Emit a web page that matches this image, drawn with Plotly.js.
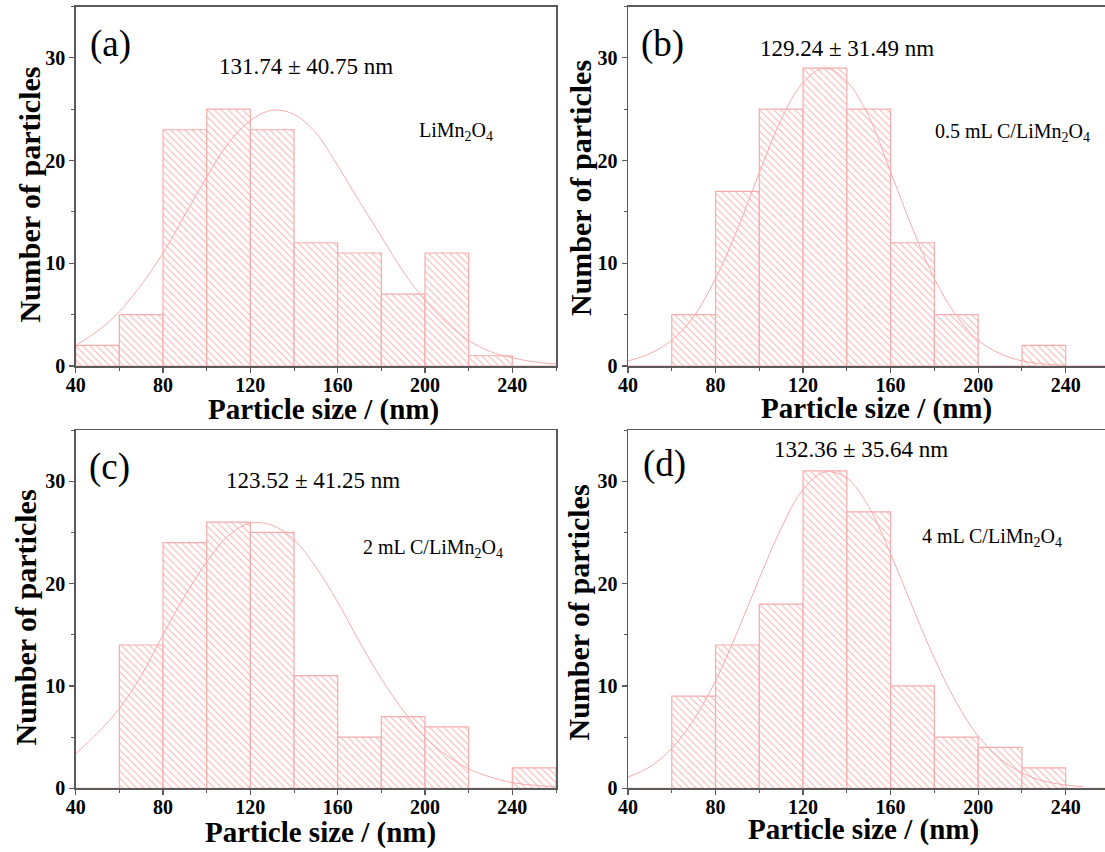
<!DOCTYPE html>
<html>
<head>
<meta charset="utf-8">
<script src="https://cdn.plot.ly/plotly-3.0.1.min.js"></script>
<style>html,body{margin:0;padding:0;background:#fff;}#chart{width:1105px;height:852px;}</style>
</head>
<body>
<div id="chart"></div>
<script>
// ---------- data ----------
const binCenters = [50, 70, 90, 110, 130, 150, 170, 190, 210, 230, 250];
const countsA = [2, 5, 23, 25, 23, 12, 11, 7, 11, 1, 0];
const countsB = [0, 5, 17, 25, 29, 25, 12, 5, 0, 2, 0];
const countsC = [0, 14, 24, 26, 25, 11, 5, 7, 6, 0, 2];
const countsD = [0, 9, 14, 18, 31, 27, 10, 5, 4, 2, 0];

const fitXA = [40,50,60,70,80,90,100,110,120,130,140,150,160,170,180,190,200,210,220,230,240,250,260];
const fitYA = [2.0,3.4,5.3,7.9,11.0,14.7,18.4,21.7,23.9,24.9,24.5,22.7,19.5,16.0,12.6,9.2,6.4,4.2,2.5,1.4,0.8,0.4,0.2];
const fitXB = [40,50,60,70,80,90,100,110,120,130,140,150,160,170,180,190,200,210,220,230,240];
const fitYB = [0.5,1.2,2.5,4.8,8.5,13.3,18.8,24.0,27.6,29.0,27.7,24.3,18.9,13.4,8.5,4.9,2.5,1.2,0.5,0.2,0.07];
const fitXC = [40,50,60,70,80,90,100,110,120,130,140,150,160,170,180,190,200,210,220,230,240,250,260];
const fitYC = [3.4,5.4,7.8,11.0,15.0,18.8,22.1,24.7,25.9,25.7,24.3,21.6,18.2,14.3,10.7,7.6,5.0,3.2,1.9,1.1,0.55,0.3,0.15];
const fitXD = [40,50,60,70,80,90,100,110,120,130,140,150,160,170,180,190,200,210,220,230,240,248];
const fitYD = [1.1,2.1,3.9,6.7,10.5,15.3,20.5,25.4,29.2,30.9,30.3,27.5,22.9,17.7,12.7,8.4,5.1,2.9,1.5,0.7,0.33,0.15];

const panelLetters = ['(a)', '(b)', '(c)', '(d)'];
const statLabels = ['131.74 \u00b1 40.75 nm', '129.24 \u00b1 31.49 nm', '123.52 \u00b1 41.25 nm', '132.36 \u00b1 35.64 nm'];
const sampleLabels = ['LiMn<sub>2</sub>O<sub>4</sub>', '0.5 mL C/LiMn<sub>2</sub>O<sub>4</sub>', '2 mL C/LiMn<sub>2</sub>O<sub>4</sub>', '4 mL C/LiMn<sub>2</sub>O<sub>4</sub>'];
const xTitle = 'Particle size / (nm)';
const yTitle = 'Number of particles';

// ---------- style ----------
const W = 1105, H = 852;
const pink = 'rgb(246,172,172)';
const FONT = 'Liberation Serif';
const px = v => v / W;
const py = v => 1 - v / H;

const counts = [countsA, countsB, countsC, countsD];
const fitsX = [fitXA, fitXB, fitXC, fitXD];
const fitsY = [fitYA, fitYB, fitYC, fitYD];

const traces = [];
for (let i = 0; i < 4; i++) {
  const sfx = i === 0 ? '' : String(i + 1);
  traces.push({
    type: 'bar', x: binCenters, y: counts[i], width: 20,
    xaxis: 'x' + sfx, yaxis: 'y' + sfx,
    marker: {color: 'white', line: {color: pink, width: 1.2},
             pattern: {shape: '\\', fgcolor: pink, bgcolor: 'white', size: 5, solidity: 0.18}},
    hoverinfo: 'x+y', showlegend: false
  });
  traces.push({
    type: 'scatter', mode: 'lines', x: fitsX[i], y: fitsY[i],
    xaxis: 'x' + sfx, yaxis: 'y' + sfx,
    line: {color: pink, width: 1, shape: 'spline', smoothing: 1},
    showlegend: false, hoverinfo: 'skip'
  });
}

// panel geometry in pixels: [left, right, top, bottom, xmax]
const geo = [
  [75.7, 556, 6.5, 366, 260],
  [628, 1105, 6.5, 366, 40 + (1105 - 628) / 2.1885],
  [75.7, 556, 430, 788.3, 260],
  [628, 1105, 430, 788.3, 40 + (1105 - 628) / 2.1885]
];

const layout = {
  width: W, height: H, autosize: false,
  margin: {l: 0, r: 0, t: 0, b: 0, pad: 0},
  paper_bgcolor: 'white', plot_bgcolor: 'white',
  showlegend: false, barmode: 'overlay',
  annotations: []
};

const tickFont = {family: FONT, size: 20, color: '#000', weight: 'bold'};
for (let i = 0; i < 4; i++) {
  const sfx = i === 0 ? '' : String(i + 1);
  const g = geo[i];
  const full = (i === 0 || i === 2);
  layout['xaxis' + sfx] = {
    domain: [px(g[0]), px(g[1])], range: [40, g[4]], anchor: 'y' + sfx,
    showline: true, linecolor: '#5a5a5a', linewidth: 1.5, mirror: true,
    showgrid: false, zeroline: false,
    ticks: 'outside', ticklen: 5, tickwidth: 1.2, tickcolor: '#5a5a5a',
    ticklabelstandoff: -5,
    tick0: 40, dtick: 40, tickfont: tickFont,
    minor: {dtick: 20, ticks: 'outside', ticklen: 3, tickwidth: 1, tickcolor: '#5a5a5a'}
  };
  layout['yaxis' + sfx] = {
    domain: [py(g[3]), py(g[2])], range: [0, 35], anchor: 'x' + sfx,
    showline: true, linecolor: '#5a5a5a', linewidth: 1.5, mirror: full,
    showgrid: false, zeroline: false,
    ticks: 'outside', ticklen: 5, tickwidth: 1.2, tickcolor: '#5a5a5a',
    tick0: 0, dtick: 10, tickfont: tickFont,
    minor: {dtick: 5, ticks: 'outside', ticklen: 3, tickwidth: 1, tickcolor: '#5a5a5a'}
  };
}

// text positions (pixels)
const letterPos = [[110.7, 44], [662.6, 44], [110, 467.5], [664, 464]];
const statPos = [[306, 66], [846.5, 48], [312.5, 480], [860.6, 450]];
const samplePos = [[455.5, 131], [1012.6, 132], [433, 548], [991.5, 537]];
const xTitlePos = [[323, 409], [876.5, 408], [320.5, 832], [863, 829]];
const yTitlePos = [[28.6, 195], [581, 188], [25, 617.5], [578, 612.5]];

function ann(text, p, size, bold, angle) {
  return {text: text, xref: 'paper', yref: 'paper', x: px(p[0]), y: py(p[1]),
    xanchor: 'center', yanchor: 'middle', showarrow: false, textangle: angle || 0,
    font: {family: FONT, size: size, color: '#000', weight: bold ? 'bold' : 'normal'}};
}
for (let i = 0; i < 4; i++) {
  layout.annotations.push(ann(panelLetters[i], letterPos[i], 37, false));
  layout.annotations.push(ann(statLabels[i], statPos[i], 23, false));
  layout.annotations.push(ann(sampleLabels[i], samplePos[i], 20, false));
  layout.annotations.push(ann(xTitle, xTitlePos[i], 29, true));
  layout.annotations.push(ann(yTitle, yTitlePos[i], 30, true, -90));
}

Plotly.newPlot('chart', traces, layout, {staticPlot: true, displayModeBar: false});
</script>
</body>
</html>
